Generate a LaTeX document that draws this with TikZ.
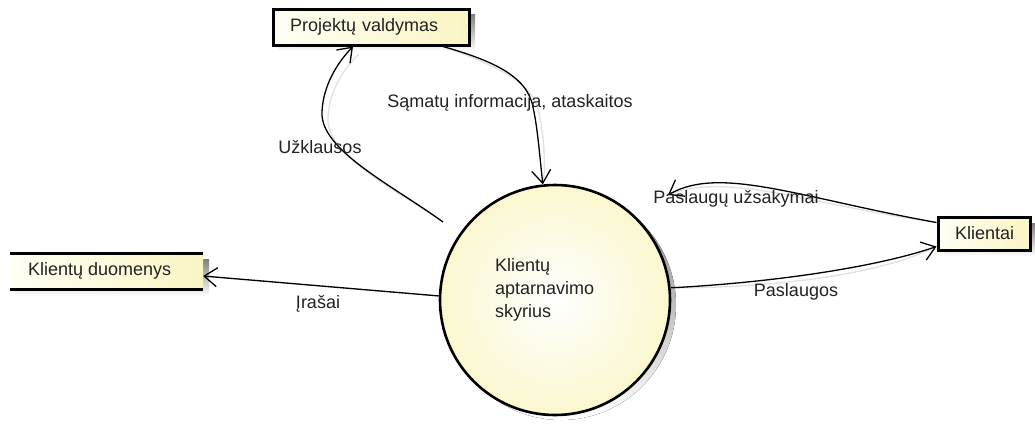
\documentclass[tikz,border=0pt]{standalone}
\usepackage{fontspec}
\setmainfont{Liberation Sans}
\usetikzlibrary{arrows.meta,calc}
\definecolor{ink}{RGB}{34,34,34}
\definecolor{paleA}{RGB}{255,255,245}
\definecolor{paleB}{RGB}{250,245,195}
\definecolor{shade}{RGB}{215,215,215}
\definecolor{trail}{RGB}{225,225,225}
\begin{document}
\begin{tikzpicture}[x=1pt,y=-1pt,
  txt/.style={font=\fontsize{18}{23}\selectfont, text=ink},
  entity/.style={draw=black, line width=3pt, left color=paleA, right color=paleB,
    rectangle, inner xsep=17pt, inner ysep=0pt, align=left, txt},
  process/.style={draw=black, line width=2.6pt, circle, minimum size=230pt,
    inner sep=0pt, shading=radial, inner color=white, outer color=paleB!80},
  flow/.style={draw=black, line width=1.3pt,
    -{Straight Barb[length=13pt,width=19pt,line width=1.3pt]}},
  flowshadow/.style={draw=trail, line width=1.3pt},
  lbl/.style={txt, inner sep=0pt, anchor=base}
]
\useasboundingbox (0,0) rectangle (1035,424);

% drop shadows of the boxes and the process
\fill[shade] (278,14) rectangle (475,51);
\fill[shade] (944,223) rectangle (1035,256);
\fill[shade] (15,259) rectangle (209,296);
\fill[shade] (561,305) circle (115pt);

% external entities
\node[entity, text width=162pt, minimum height=36pt] (pv) at (371,27) {Projektų valdymas};
\node[entity, text width=58pt, minimum height=33pt] (kl) at (984,233.5) {Klientai};

% data store: only top and bottom edges
\fill[left color=paleA, right color=paleB] (10,253) rectangle (203,289);
\draw[black, line width=3pt] (10,253) -- (203,253) (10,289) -- (203,289);
\node[txt, anchor=west, inner sep=0pt] (kd) at (28,271) {Klientų duomenys};
\coordinate (kdend) at (203,276);

% process
\node[process] (c) at (555,300) {};
\node[txt, anchor=west, align=left, inner sep=0pt] (ct) at (495,290)
  {Klientų\\aptarnavimo\\skyrius};

% free ends of two flows
\coordinate (uzs) at (443,222);
\coordinate (psu) at (668,195);

% connector shadows
\begin{scope}[shift={(6,6)}]
\draw[flowshadow] (uzs) .. controls (392,185) and (320,150) .. (322,112)
  .. controls (323,85) and (338,62) .. (353,48);
\draw[flowshadow] ([xshift=72pt]pv.south) .. controls (490,60) and (527,75) .. (533,107)
  .. controls (538,130) and (540,160) .. (c.96);
\draw[flowshadow] ([yshift=11pt]kl.west) .. controls (800,198) and (720,165) .. (psu);
\draw[flowshadow] (c.6) .. controls (780,282) and (880,266) .. ([yshift=-13pt]kl.west);
\draw[flowshadow] (c.178) -- (kdend);
\end{scope}

% data flows
\draw[flow] (uzs) .. controls (392,185) and (320,150) .. (322,112)
  .. controls (323,85) and (338,62) .. ([xshift=-18pt]pv.south);
\draw[flow] ([xshift=72pt]pv.south) .. controls (490,60) and (527,75) .. (533,107)
  .. controls (538,130) and (540,160) .. (c.96);
\draw[flow] ([yshift=11pt]kl.west) .. controls (800,198) and (720,165) .. (psu);
\draw[flow] (c.6) .. controls (780,282) and (880,266) .. ([yshift=-13pt]kl.west);
\draw[flow] (c.178) -- (kdend);

% flow labels
\node[lbl] (l1) at (510,107) {Sąmatų informacija, ataskaitos};
\node[lbl] (l2) at (320,153) {Užklausos};
\node[lbl] (l3) at (736,203) {Paslaugų užsakymai};
\node[lbl] (l4) at (796,296) {Paslaugos};
\node[lbl] (l5) at (318,308) {Įrašai};
\end{tikzpicture}
\end{document}
